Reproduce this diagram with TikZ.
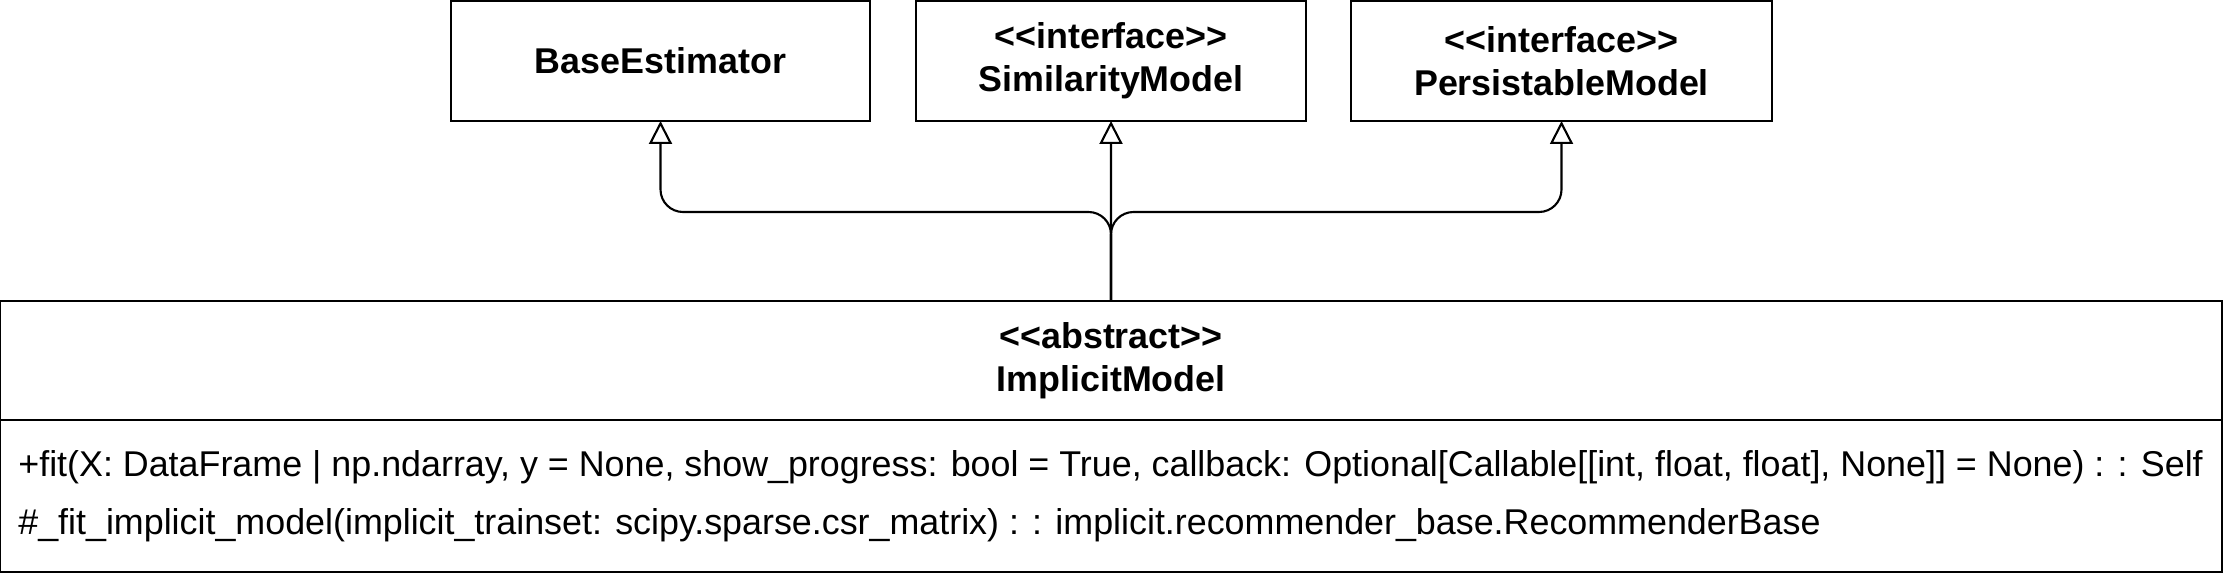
\documentclass[tikz,border=0pt]{standalone}
\usepackage{fontspec}
\setmainfont{Liberation Sans}
\usetikzlibrary{positioning}
\usetikzlibrary{arrows.meta}
\tikzset{
  classbox/.style={draw=black,line width=1.2pt,outer sep=0pt,align=center,
    minimum height=2.4cm,font=\bfseries\fontsize{20.4}{24.4}\selectfont},
  methodbox/.style={draw=black,line width=1.2pt,outer sep=0pt,
    minimum height=3.04cm},
  methodtext/.style={align=left,inner sep=0pt,font=\fontsize{20.4}{33}\selectfont},
  inherit/.style={line width=1.2pt,draw=black,rounded corners=0.45cm,
    -{Triangle[open,length=0.46cm,width=0.46cm]}}
}
\newcommand{\stereo}[1]{<{}<#1>{}>}

\begin{document}
\begin{tikzpicture}[node distance=0.9cm and 0.9cm]
    \useasboundingbox (0,0) rectangle (44.52,-11.64);
    \node[classbox,minimum width=8.38cm] (base) at (13.21,-1.22) {BaseEstimator};
    \node[classbox,minimum width=7.8cm,right=0.92cm of base] (sim) {\stereo{interface}\\SimilarityModel};
    \node[classbox,minimum width=8.42cm,right=0.9cm of sim] (pers) {\stereo{interface}\\PersistableModel};
    \node[classbox,minimum width=44.44cm,minimum height=2.38cm] (impl) at (22.22,-7.21) {\stereo{abstract}\\ImplicitModel};
    \node[methodbox,minimum width=44.44cm,below=0pt of impl] (implbody) {};
    \node[methodtext,anchor=west] (methods) at ([xshift=0.36cm]implbody.west)
      {+fit(X: DataFrame | np.ndarray, y = None, show\_progress: bool = True, callback: Optional[Callable[[int, float, float], None]] = None) : : Self\\
       \#\_fit\_implicit\_model(implicit\_trainset: scipy.sparse.csr\_matrix) : : implicit.recommender\_base.RecommenderBase};
    \draw[inherit] (impl.north) -- (sim.south);
    \draw[inherit] (impl.north) -- ++(0,1.78) -| (base.south);
    \draw[inherit] (impl.north) -- ++(0,1.78) -| (pers.south);
  \end{tikzpicture}
\end{document}
